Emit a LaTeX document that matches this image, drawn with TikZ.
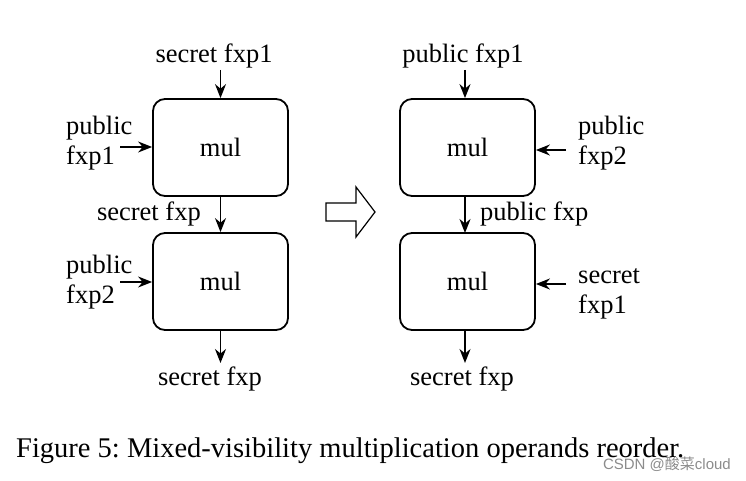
\documentclass[tikz,border=0pt]{standalone}
\usepackage{fontspec}
\setmainfont{Liberation Serif}
\newfontfamily\cjkwm{Noto Sans CJK SC}
\usetikzlibrary{arrows.meta}
\frenchspacing
\begin{document}
\begin{tikzpicture}[x=1pt,y=-1pt,
  mulbox/.style={draw, line width=1.8pt, rounded corners=12pt, minimum width=135pt, minimum height=97pt, inner sep=0pt, font=\fontsize{26.5}{29}\selectfont},
  lbl/.style={inner sep=0pt, font=\fontsize{26.5}{30.5}\selectfont},
  arr/.style={line width=1.6pt, -{Stealth[length=14pt,width=11pt]}}]
\useasboundingbox (0,0) rectangle (746,481);
% left
\node[mulbox] (l1) at (220.5,147.5) {mul};
\node[mulbox] (l2) at (220.5,281.5) {mul};
\node[lbl] (ls1) at (214,56) {secret fxp1};
\coordinate (ls1a) at (220.5,70);
\draw[arr] (ls1a) -- (l1.north);
\node[lbl, align=left, anchor=west] (lp1) at (66,143) {public\\fxp1};
\coordinate (lp1a) at (120,147);
\draw[arr] (lp1a) -- (l1.west |- lp1a);
\draw[arr] (l1.south) -- (l2.north);
\node[lbl, anchor=east] (lsf) at (201,214) {secret fxp};
\node[lbl, align=left, anchor=west] (lp2) at (66,282) {public\\fxp2};
\coordinate (lp2a) at (120,282);
\draw[arr] (lp2a) -- (l2.west |- lp2a);
\coordinate (lout) at (220.5,363);
\draw[arr] (l2.south) -- (lout);
\node[lbl] (lsout) at (210,379) {secret fxp};
% hollow arrow
\draw[line width=1.2pt, line join=miter] (326,203) -- (356,203) -- (356,187) -- (375,212) -- (356,237) -- (356,221) -- (326,221) -- cycle;
% right
\node[mulbox] (r1) at (467.5,147.5) {mul};
\node[mulbox] (r2) at (467.5,281.5) {mul};
\node[lbl] (rp1) at (463,56) {public fxp1};
\coordinate (rp1a) at (465,70);
\draw[arr] (rp1a) -- (rp1a |- r1.north);
\node[lbl, align=left, anchor=west] (rp2) at (578,143) {public\\fxp2};
\coordinate (rp2a) at (566,150);
\draw[arr] (rp2a) -- (r1.east |- rp2a);
\draw[arr] (465,196) -- (465,233);
\node[lbl, anchor=west] (rpf) at (480,214) {public fxp};
\node[lbl, align=left, anchor=west] (rs1) at (578,294) {secret\\fxp1};
\coordinate (rs1a) at (566,284);
\draw[arr] (rs1a) -- (r2.east |- rs1a);
\coordinate (rout) at (465,363);
\draw[arr] (465,330) -- (rout);
\node[lbl] (rsout) at (462,379) {secret fxp};
% caption
\node[anchor=west, inner sep=0pt, font=\fontsize{28.5}{32}\selectfont] (cap) at (16,451) {Figure 5: Mixed-visibility multiplication operands reorder.};
\node[anchor=east, inner sep=0pt, text=black!45, font=\fontsize{15}{18}\selectfont] (wm) at (731,464) {\fontspec{Liberation Sans}CSDN @{\cjkwm 酸菜}cloud};
\end{tikzpicture}
\end{document}
